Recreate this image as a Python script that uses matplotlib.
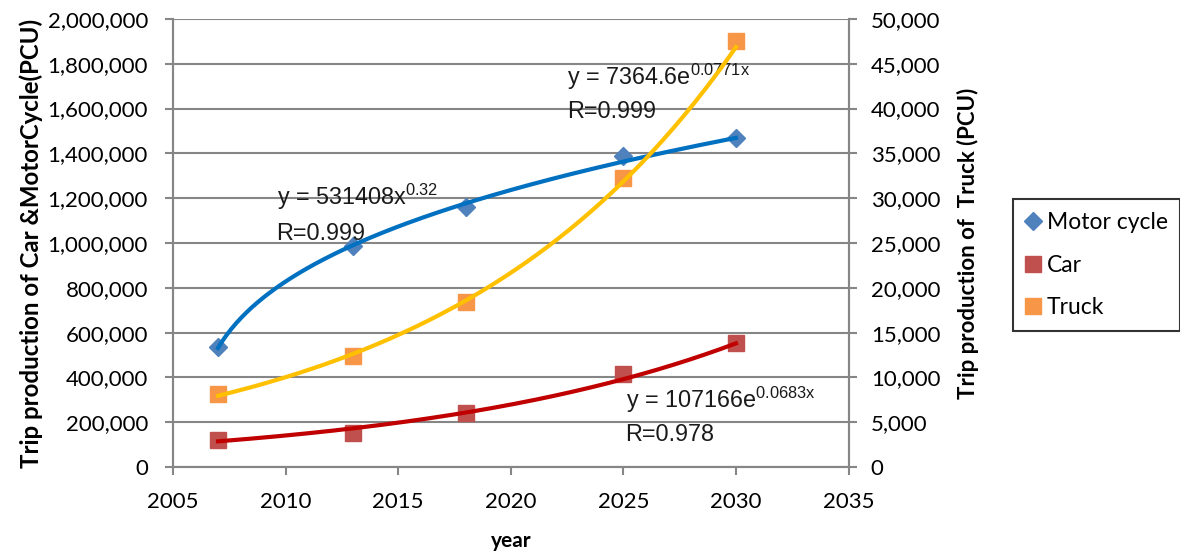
import numpy as np
import matplotlib
matplotlib.use("Agg")
import matplotlib.pyplot as plt
from matplotlib.ticker import FuncFormatter

# data
years = [2007, 2013, 2018, 2025, 2030]
motor_cycle = [535000, 985000, 1162000, 1387000, 1470000]
car = [121000, 151000, 241000, 415000, 553000]
truck = [8100, 12400, 18400, 32300, 47500]

# trend equations shown on the chart (x = year - 2006)
mc_a, mc_b = 531408, 0.32
car_a, car_b = 107166, 0.0683
truck_a, truck_b = 7364.6, 0.0771

plt.rcParams['font.family'] = ['Lato', 'DejaVu Sans']
plt.rcParams['mathtext.fontset'] = 'custom'
plt.rcParams['mathtext.rm'] = 'Liberation Sans'

fig = plt.figure(figsize=(11.8, 5.58), dpi=100)
ax = fig.add_axes([0.1466, 0.163, 0.5725, 0.803])
ax2 = ax.twinx()

grid_c = '#868686'
xs = np.linspace(2007, 2030, 200)
t = xs - 2006

ax.plot(years, motor_cycle, 'D', color='#4F81BD', markersize=9, zorder=3, label='Motor cycle')
ax.plot(years, car, 's', color='#C0504D', markersize=12, zorder=3, label='Car')
ax.plot(xs, mc_a * t ** mc_b, color='#0070C0', lw=3, zorder=4)
ax.plot(xs, car_a * np.exp(car_b * t), color='#C00000', lw=3, zorder=4)

ax2.plot(years, truck, 's', color='#F79646', markersize=12, zorder=3, label='Truck')
ax2.plot(xs, truck_a * np.exp(truck_b * t), color='#FFC000', lw=3, zorder=4)

ax.set_xlim(2005, 2035)
ax.set_ylim(0, 2000000)
ax2.set_ylim(0, 50000)
ax.set_xticks(range(2005, 2036, 5))
ax.set_yticks(range(0, 2000001, 200000))
ax2.set_yticks(range(0, 50001, 5000))
fmt = FuncFormatter(lambda v, p: f'{int(v):,}')
ax.yaxis.set_major_formatter(fmt)
ax2.yaxis.set_major_formatter(fmt)

ax.grid(axis='y', color=grid_c, lw=1.5)
ax.set_axisbelow(True)
for a in (ax, ax2):
    a.spines['top'].set_visible(False)
    for s in ('left', 'right', 'bottom'):
        a.spines[s].set_color(grid_c)
        a.spines[s].set_linewidth(1.5)
    a.tick_params(labelsize=16, length=6, width=1.5, color=grid_c)
ax.tick_params(axis='y', pad=12)
ax.tick_params(axis='x', pad=12)
ax2.tick_params(axis='y', pad=10)

ax.set_xlabel('year', fontsize=15, fontweight='bold', labelpad=14)
ax.set_ylabel('Trip production of Car &MotorCycle(PCU)', fontsize=17.3, fontweight='bold', labelpad=3)
ax2.set_ylabel('Trip production of  Truck (PCU)', fontsize=16, fontweight='bold', labelpad=12)

ann = dict(fontsize=16.8, color='#1a1a1a', family=['Liberation Sans'])
ax.text(2009.6, 1170000, r'y = 531408x$^{\mathregular{0.32}}$', **ann)
ax.text(2009.6, 1013000, 'R=0.999', **ann)
ax.text(2022.5, 1705000, r'y = 7364.6e$^{\mathregular{0.0771x}}$', **ann)
ax.text(2022.5, 1558000, 'R=0.999', **ann)
ax.text(2025.1, 263000, r'y = 107166e$^{\mathregular{0.0683x}}$', **ann)
ax.text(2025.1, 116000, 'R=0.978', **ann)

h1, l1 = ax.get_legend_handles_labels()
h2, l2 = ax2.get_legend_handles_labels()
leg = fig.legend(h1 + h2, l1 + l2, loc='center left', bbox_to_anchor=(0.849, 0.525),
                 fontsize=16.5, frameon=True, fancybox=False, edgecolor='black',
                 handlelength=0.6, handletextpad=0.3, labelspacing=0.95, borderpad=0.55)
leg.get_frame().set_linewidth(1.5)

fig.savefig('out.png', dpi=100)
